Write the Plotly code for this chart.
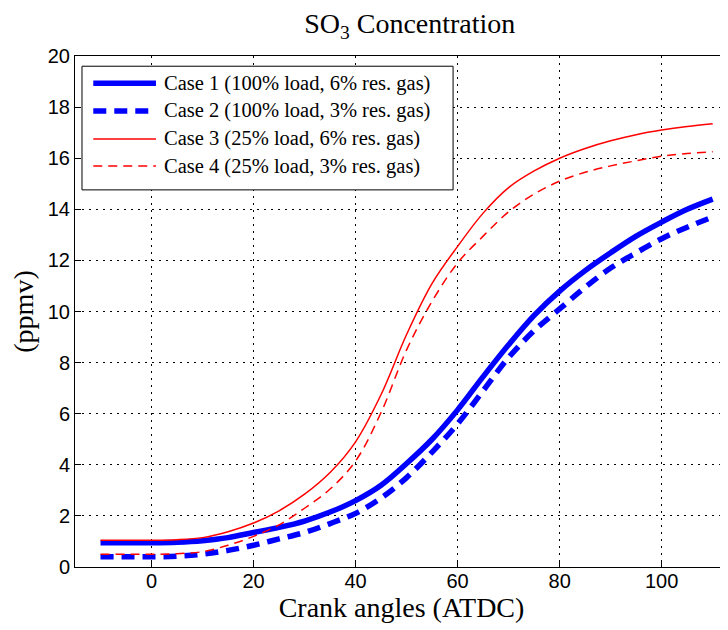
import plotly.graph_objects as go

crank_angle = [-10, -5, 0, 5, 10, 15, 20, 25, 30, 35, 40, 45, 50, 55, 60,
               65, 70, 75, 80, 85, 90, 95, 100, 105, 110]
case1 = [0.95, 0.95, 0.95, 0.97, 1.03, 1.15, 1.35, 1.55, 1.8, 2.15, 2.6, 3.2,
         4.05, 5.0, 6.15, 7.45, 8.7, 9.85, 10.8, 11.6, 12.3, 12.95, 13.5, 14.0, 14.4]
case2 = [0.4, 0.4, 0.4, 0.42, 0.5, 0.65, 0.85, 1.1, 1.35, 1.7, 2.1, 2.7,
         3.5, 4.5, 5.6, 6.9, 8.2, 9.25, 10.1, 10.95, 11.7, 12.3, 12.85, 13.3, 13.7]
case3 = [1.05, 1.05, 1.05, 1.07, 1.15, 1.38, 1.72, 2.2, 2.85, 3.7, 4.9, 6.75,
         9.1, 11.1, 12.55, 13.85, 14.85, 15.5, 16.0, 16.38, 16.68, 16.92, 17.1, 17.24, 17.35]
case4 = [0.5, 0.5, 0.5, 0.52, 0.6, 0.85, 1.2, 1.65, 2.3, 3.05, 4.15, 6.05,
         8.5, 10.4, 11.9, 12.95, 13.9, 14.6, 15.1, 15.45, 15.7, 15.9, 16.08, 16.18, 16.25]
case_names = ["Case 1 (100% load, 6% res. gas)",
              "Case 2 (100% load, 3% res. gas)",
              "Case 3 (25% load, 6% res. gas)",
              "Case 4 (25% load, 3% res. gas)"]
x_ticks = [0, 20, 40, 60, 80, 100]
y_ticks = [0, 2, 4, 6, 8, 10, 12, 14, 16, 18, 20]

styles = [
    dict(color="#0000ff", width=5.5, dash="solid"),
    dict(color="#0000ff", width=5.5, dash="13px,8px"),
    dict(color="#ff0000", width=1.5, dash="solid"),
    dict(color="#ff0000", width=1.5, dash="9px,6px"),
]

serif = "Liberation Serif, Times New Roman, serif"
sans = "Liberation Sans, Arial, sans-serif"

fig = go.Figure()
for ys, name, st in zip([case1, case2, case3, case4], case_names, styles):
    fig.add_trace(go.Scatter(x=crank_angle, y=ys, mode="lines", name=name,
                             line=dict(color=st["color"], width=st["width"],
                                       dash=st["dash"], shape="spline", smoothing=1.0),
                             showlegend=False))

# manual legend (box, sample lines, labels)
lx0, lx1, ly0, ly1 = 0.0107, 0.579, 0.738, 0.980
fig.add_shape(type="rect", xref="paper", yref="paper", x0=lx0, x1=lx1, y0=ly0, y1=ly1,
              line=dict(color="black", width=1), fillcolor="white", layer="above")
row_y = [0.9466, 0.8924, 0.8376, 0.7847]
for ry, name, st in zip(row_y, case_names, styles):
    fig.add_shape(type="line", xref="paper", yref="paper", x0=0.028, x1=0.124, y0=ry, y1=ry,
                  line=dict(color=st["color"], width=st["width"], dash=st["dash"]),
                  layer="above")
    fig.add_annotation(x=0.1328, y=ry, xref="paper", yref="paper", text=name,
                       showarrow=False, xanchor="left", yanchor="middle",
                       font=dict(family=serif, size=20.5, color="black"))

grid = dict(showgrid=True, gridcolor="black", gridwidth=1, griddash="2px,5px")
fig.update_xaxes(range=[-15, 113], tickvals=x_ticks, ticks="inside", ticklen=6,
                 tickcolor="black", showline=True, linecolor="black", linewidth=1,
                 mirror=True, zeroline=False, ticklabelstandoff=-4,
                 tickfont=dict(family=sans, size=20, color="black"),
                 title=dict(text="Crank angles (ATDC)", standoff=4,
                            font=dict(family=serif, size=28, color="black")),
                 **grid)
fig.update_yaxes(range=[0, 20], tickvals=y_ticks, ticks="inside", ticklen=6,
                 tickcolor="black", showline=True, linecolor="black", linewidth=1,
                 zeroline=False,
                 tickfont=dict(family=sans, size=20, color="black"),
                 title=dict(text="(ppmv)", standoff=8,
                            font=dict(family=serif, size=28, color="black")),
                 **grid)
# the page body adds an 8px offset, so the figure is sized/placed to compensate
fig.update_layout(
    width=720, height=622,
    margin=dict(l=67, r=0, t=48, b=63),
    paper_bgcolor="white", plot_bgcolor="white",
    title=dict(text="SO<sub>3</sub> Concentration", x=0.558, xanchor="center",
               y=0.976, yanchor="middle", yref="container",
               font=dict(family=serif, size=28, color="black")),
    showlegend=False,
)
fig.write_html("out.html")
